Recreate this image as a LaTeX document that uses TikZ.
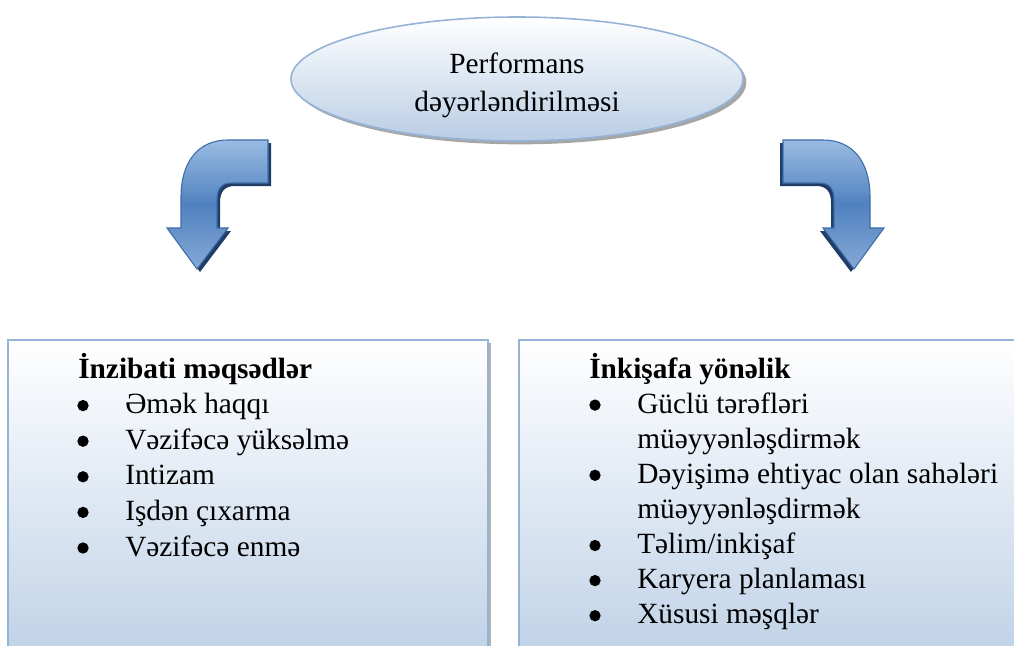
\documentclass[tikz,border=0pt]{standalone}
\usepackage{fontspec}
\setmainfont{Liberation Serif}
\usetikzlibrary{shapes.geometric,shadows,fit}

\definecolor{paleblue}{HTML}{B9CDE5}
\definecolor{rimblue}{HTML}{95B3D7}
\definecolor{arrowtop}{HTML}{9ABBE2}
\definecolor{arrowmid}{HTML}{5082C0}
\definecolor{arrowbot}{HTML}{86A9D6}
\definecolor{arrowedge}{HTML}{3C6CA8}
\definecolor{arrowshade}{HTML}{1F3D66}

\tikzset{
  bubble/.style={ellipse, draw=rimblue, line width=1.2pt, top color=white, bottom color=paleblue,
    minimum width=339pt, minimum height=93pt, inner sep=0pt,
    drop shadow={shadow xshift=2.5pt, shadow yshift=-2.5pt, fill=black, opacity=0.35}},
  panel/.style={draw=rimblue, line width=1.5pt, top color=white, bottom color=paleblue, inner sep=0pt,
    drop shadow={shadow xshift=2pt, shadow yshift=-2pt, fill=black, opacity=0.3}},
  bendarrow/.style={draw=arrowedge, line width=0.8pt, top color=arrowtop, bottom color=arrowbot, middle color=arrowmid},
  entry/.style={anchor=base west, inner sep=0pt, font=\fontsize{22}{26}\selectfont},
  heading/.style={entry, font=\fontsize{22}{26}\selectfont\bfseries},
  dot/.style={circle, fill=black, inner sep=0pt, minimum size=8.5pt}
}

% left bent arrow, in pixels
\newcommand{\bentpath}{(268,140) -- (228,140) .. controls (198,140) and (181,162) .. (181,197) -- (181,228) -- (167,228) -- (197,269) -- (228,228) -- (217,228) -- (217,200) .. controls (217,188) and (222,183) .. (232,183) -- (268,183) -- cycle}

\begin{document}
\begin{tikzpicture}[x=0.75pt,y=-0.75pt]
\clip (0,0) rectangle (1014,646);

\node[bubble] (perf) at (517,79) {};
\node[align=center, inner sep=0pt, font=\fontsize{22}{28.5}\selectfont] (perftext) at (517,85) {Performans\\dəyərləndirilməsi};

\fill[arrowshade, shift={(3,3)}] \bentpath;
\path[bendarrow] \bentpath;
\begin{scope}[shift={(1051,0)}, xscale=-1]
\fill[arrowshade, shift={(3,3)}] \bentpath;
\path[bendarrow] \bentpath;
\end{scope}

\node[panel, fit={(8,340) (488,690)}] (adm) {};
\node[panel, fit={(519,340) (1040,690)}] (dev) {};

\node[heading] (admtitle) at (78,378) {İnzibati məqsədlər};
\foreach \txt [count=\i] in {Əmək haqqı, Vəzifəcə yüksəlmə, Intizam, Işdən çıxarma, Vəzifəcə enmə}{
  \node[entry] (adm\i) at (125,378+35.6*\i) {\txt};
  \node[dot] (admdot\i) at (83,370+35.6*\i) {};
}

\node[heading] (devtitle) at (589,378) {İnkişafa yönəlik};
\foreach \txt/\hasdot [count=\i] in {Güclü tərəfləri/1, müəyyənləşdirmək/0, Dəyişimə ehtiyac olan sahələri/1, müəyyənləşdirmək/0, {Təlim/inkişaf}/1, Karyera planlaması/1, Xüsusi məşqlər/1}{
  \node[entry] (dev\i) at (637,378+35.1*\i) {\txt};
  \ifnum\hasdot=1 \node[dot] (devdot\i) at (595,370+35.1*\i) {}; \fi
}
\end{tikzpicture}
\end{document}
